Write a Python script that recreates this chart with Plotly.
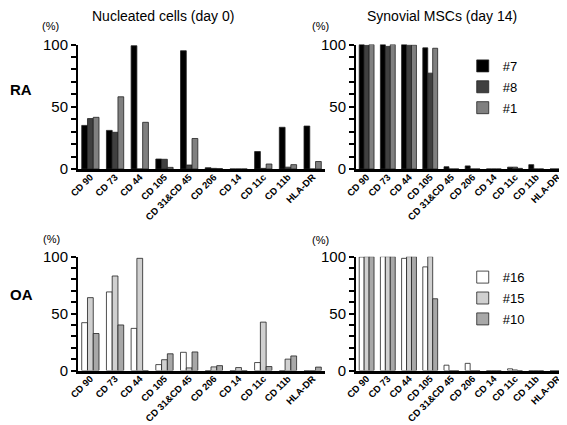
import plotly.graph_objects as go

categories = ["CD 90", "CD 73", "CD 44", "CD 105", "CD 31&CD 45", "CD 206",
              "CD 14", "CD 11c", "CD 11b", "HLA-DR"]

# RA, nucleated cells (day 0)
ra_day0_7 = [35, 31, 99, 8, 95, 1, 0, 14, 33.5, 34.5]
ra_day0_8 = [40.5, 29.5, 0, 7.8, 3.2, 0.5, 0, 0.5, 1.5, 0]
ra_day0_1 = [41.5, 58, 37.5, 1.3, 24.5, 0.3, 0, 4, 3.5, 6]
# RA, synovial MSCs (day 14)
ra_d14_7 = [100, 100, 100, 97.3, 1.8, 2.5, 0, 1.5, 3.5, 0]
ra_d14_8 = [99.3, 98.5, 99.5, 77, 0, 0, 0, 1.5, 0, 0]
ra_d14_1 = [100, 100, 99.5, 97, 0, 0, 0, 0.5, 0, 0]
# OA, nucleated cells (day 0)
oa_day0_16 = [42, 69, 37, 5.2, 16, 0, 0, 7, 0, 0]
oa_day0_15 = [64, 83, 98.5, 9.5, 2.3, 3.2, 2.6, 42.5, 10, 0]
oa_day0_10 = [32.5, 40, 0, 14.7, 16.3, 4.3, 0, 3.5, 12.8, 3]
# OA, synovial MSCs (day 14)
oa_d14_16 = [99.7, 100, 98.5, 91, 4.7, 6.3, 0, 1.5, 0, 0]
oa_d14_15 = [100, 100, 100, 100, 0, 0, 0, 0.5, 0, 0]
oa_d14_10 = [100, 100, 100, 63, 0, 0, 0, 0, 0, 0]

ra_names = ["#7", "#8", "#1"]
oa_names = ["#16", "#15", "#10"]
ra_colors = ["#000000", "#404040", "#808080"]
oa_colors = ["#ffffff", "#d0d0d0", "#a8a8a8"]

FONT = "Liberation Sans, Arial, sans-serif"

fig = go.Figure()

panels = [
    ("x", "y", [ra_day0_7, ra_day0_8, ra_day0_1], ra_names, ra_colors, False, "legend"),
    ("x2", "y2", [ra_d14_7, ra_d14_8, ra_d14_1], ra_names, ra_colors, True, "legend"),
    ("x3", "y3", [oa_day0_16, oa_day0_15, oa_day0_10], oa_names, oa_colors, False, "legend2"),
    ("x4", "y4", [oa_d14_16, oa_d14_15, oa_d14_10], oa_names, oa_colors, True, "legend2"),
]
for xa, ya, series, names, colors, show, leg in panels:
    for vals, nm, col in zip(series, names, colors):
        fig.add_trace(go.Bar(
            x=categories, y=vals, name=nm, xaxis=xa, yaxis=ya,
            marker=dict(color=col, line=dict(color="#222222", width=0.8)),
            showlegend=show, legend=leg, legendgroup=nm,
        ))

def xaxis(domain, anchor):
    return dict(domain=domain, anchor=anchor, type="category",
                showline=True, linecolor="black", linewidth=3,
                showgrid=False, zeroline=False, ticks="", tickangle=-45,
                ticklabelstandoff=-4,
                tickfont=dict(family=FONT, size=9.5, color="black", weight="bold"),
                automargin=False, fixedrange=True)

def yaxis(domain, anchor):
    return dict(domain=domain, anchor=anchor, range=[0, 100],
                showline=True, linecolor="black", linewidth=2,
                showgrid=False, zeroline=False,
                tickvals=[0, 50, 100], ticks="outside", ticklen=5, tickwidth=1.5,
                tickcolor="black",
                minor=dict(dtick=10, ticks="outside", ticklen=5, tickcolor="black", tickwidth=1.5),
                tickfont=dict(family=FONT, size=15, color="black"),
                automargin=False, fixedrange=True)

top = [0.6212, 0.9141]
bot = [0.147, 0.415]
left = [0.1235, 0.5591]
right = [0.6138, 0.9877]

ann = []
def text(x, y, s, size, bold=False, xanchor="center"):
    ann.append(dict(x=x, y=y, xref="paper", yref="paper", text=s, showarrow=False,
                    xanchor=xanchor, yanchor="middle",
                    font=dict(family=FONT, size=size, color="black",
                              weight="bold" if bold else "normal")))

text(0.273, 0.981, "Nucleated cells (day 0)", 14)
text(0.7646, 0.981, "Synovial MSCs (day 14)", 14)
text(0.0758, 0.958, "(%)", 11)
text(0.551, 0.958, "(%)", 11)
text(0.0775, 0.457, "(%)", 11)
text(0.551, 0.455, "(%)", 11)
text(0.0, 0.809, "RA", 15, True, "left")
text(0.0, 0.325, "OA", 15, True, "left")

legfont = dict(family=FONT, size=13, color="black")
fig.update_layout(
    width=567, height=425,
    margin=dict(l=0, r=0, t=0, b=0),
    paper_bgcolor="white", plot_bgcolor="white",
    barmode="group", bargap=0.3, bargroupgap=0,
    xaxis=xaxis(left, "y"), yaxis=yaxis(top, "x"),
    xaxis2=xaxis(right, "y2"), yaxis2=yaxis(top, "x2"),
    xaxis3=xaxis(left, "y3"), yaxis3=yaxis(bot, "x3"),
    xaxis4=xaxis(right, "y4"), yaxis4=yaxis(bot, "x4"),
    legend=dict(x=0.802, y=0.899, xanchor="left", yanchor="top",
                font=legfont, tracegroupgap=1, traceorder="grouped",
                bgcolor="rgba(0,0,0,0)"),
    legend2=dict(x=0.802, y=0.402, xanchor="left", yanchor="top",
                 font=legfont, tracegroupgap=1, traceorder="grouped",
                 bgcolor="rgba(0,0,0,0)"),
    annotations=ann,
    showlegend=True,
)

fig.write_html("out.html")
